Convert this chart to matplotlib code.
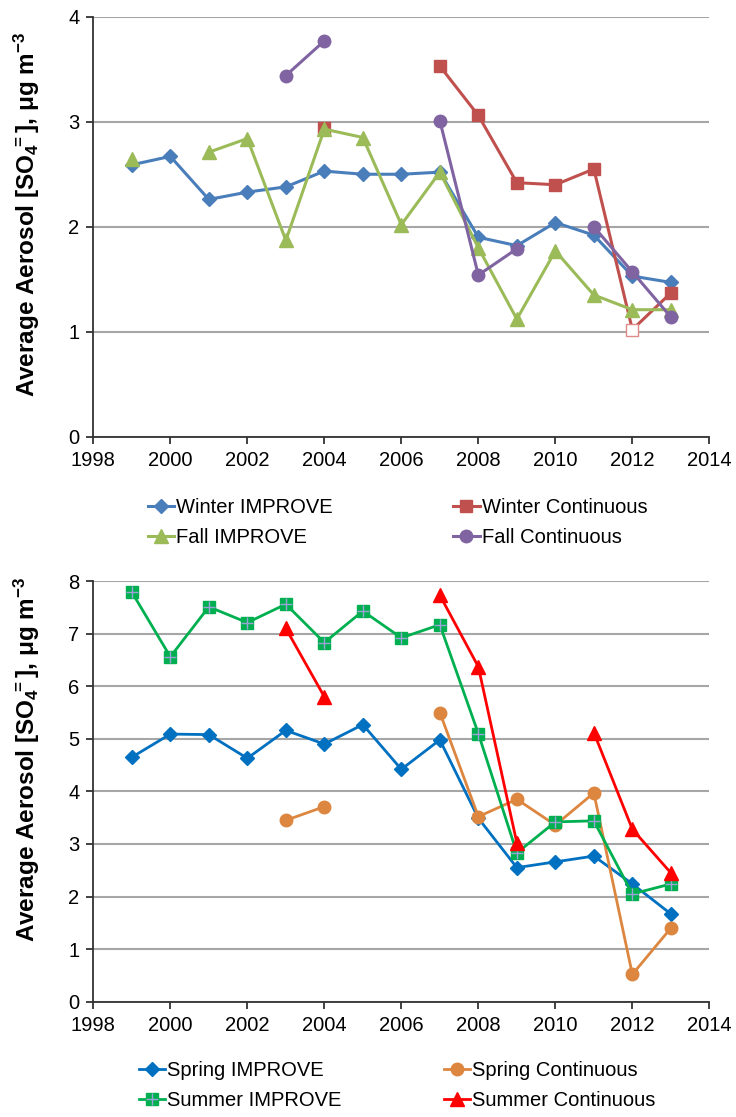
import numpy as np
import matplotlib
matplotlib.use("Agg")
import matplotlib.pyplot as plt

plt.rcParams['font.family'] = ['Liberation Sans', 'DejaVu Sans']
plt.rcParams['mathtext.default'] = 'regular'

nan = np.nan
years = list(range(1999, 2014))

# top panel: winter / fall
winter_improve = [2.59, 2.67, 2.26, 2.33, 2.38, 2.53, 2.50, 2.50, 2.52, 1.90, 1.82, 2.04, 1.92, 1.53, 1.47]
winter_cont = [nan, nan, nan, nan, nan, 2.94, nan, nan, 3.53, 3.06, 2.42, 2.40, 2.55, 1.02, 1.37]
fall_improve = [2.65, nan, 2.71, 2.84, 1.87, 2.93, 2.85, 2.02, 2.52, 1.80, 1.12, 1.77, 1.35, 1.21, 1.21]
fall_cont = [nan, nan, nan, nan, 3.44, 3.77, nan, nan, 3.01, 1.54, 1.79, nan, 2.00, 1.57, 1.14]

# bottom panel: spring / summer
spring_improve = [4.65, 5.09, 5.08, 4.63, 5.16, 4.90, 5.27, 4.42, 4.98, 3.49, 2.55, 2.66, 2.77, 2.24, 1.67]
spring_cont = [nan, nan, nan, nan, 3.45, 3.71, nan, nan, 5.50, 3.52, 3.85, 3.36, 3.97, 0.52, 1.40]
summer_improve = [7.79, 6.56, 7.51, 7.21, 7.56, 6.83, 7.43, 6.92, 7.17, 5.10, 2.83, 3.42, 3.44, 2.05, 2.24]
summer_cont = [nan, nan, nan, nan, 7.10, 5.80, nan, nan, 7.73, 6.37, 3.02, nan, 5.12, 3.28, 2.45]

hollow_year = 2012  # winter continuous point drawn unfilled

ylabel = r'Average Aerosol [SO$_4$$^{\!\!=}$], μg m$^{-3}$'

fig = plt.figure(figsize=(7.36, 11.17), dpi=100)
ax1 = fig.add_axes([0.1268, 0.609, 0.837, 0.376])
ax2 = fig.add_axes([0.1268, 0.1032, 0.837, 0.3766])


def style_axes(ax, ymax, label_y):
    ax.set_xlim(1998, 2014)
    ax.set_ylim(0, ymax)
    ax.set_xticks(range(1998, 2015, 2))
    ax.set_yticks(range(0, ymax + 1))
    ax.grid(axis='y', color='#a6a6a6', lw=1.5)
    ax.set_axisbelow(True)
    for s in ['top', 'right']:
        ax.spines[s].set_visible(False)
    for s in ['left', 'bottom']:
        ax.spines[s].set_color('#333333')
        ax.spines[s].set_linewidth(1.3)
    ax.tick_params(direction='out', length=5, width=1.3, color='#333333',
                   labelsize=14.5, pad=5)
    ax.set_ylabel(ylabel, fontsize=17.5, fontweight='bold')
    ax.yaxis.set_label_coords(-0.083, label_y)


lw = 2.2
h1 = ax1.plot(years, winter_improve, color='#4a7ebb', marker='D', ms=7.5, lw=lw,
              label='Winter IMPROVE')[0]
mask = [y != hollow_year for y in years]
h2 = ax1.plot(years, winter_cont, color='#c0504d', marker='s', ms=8.5, lw=lw,
              markevery=mask, label='Winter Continuous')[0]
ax1.plot([hollow_year], [winter_cont[years.index(hollow_year)]], ls='none', marker='s',
         ms=8, mfc='white', mec='#e08a88', mew=1.0, zorder=3)
h3 = ax1.plot(years, fall_improve, color='#9bbb59', marker='^', ms=9.5, lw=lw,
              label='Fall IMPROVE')[0]
h4 = ax1.plot(years, fall_cont, color='#8064a2', marker='o', ms=9, lw=lw,
              label='Fall Continuous')[0]
style_axes(ax1, 4, 0.53)
ax1.legend(handles=[h1, h3, h2, h4], ncol=2, loc='upper left',
           bbox_to_anchor=(0.187, 0.563), bbox_transform=fig.transFigure,
           frameon=False, fontsize=14.5, handlelength=1.3, handletextpad=0.1,
           columnspacing=6.0, labelspacing=0.55, borderpad=0)

lw2 = 2.0
g1 = ax2.plot(years, spring_improve, color='#0070c0', marker='D', ms=7, lw=lw2,
              label='Spring IMPROVE')[0]
g2 = ax2.plot(years, spring_cont, color='#dd8640', marker='o', ms=9, lw=lw2,
              label='Spring Continuous')[0]
g3 = ax2.plot(years, summer_improve, color='#00b050', marker='s', ms=9, lw=lw2,
              label='Summer IMPROVE')[0]
g3p = ax2.plot(years, summer_improve, ls='none', marker='+', ms=8, mew=1.0,
               color='#9aa3d6')[0]
g4 = ax2.plot(years, summer_cont, color='#ff0000', marker='^', ms=9.5, lw=lw2,
              label='Summer Continuous')[0]
style_axes(ax2, 8, 0.575)
ax2.legend(handles=[g1, (g3, g3p), g2, g4],
           labels=['Spring IMPROVE', 'Summer IMPROVE', 'Spring Continuous', 'Summer Continuous'],
           ncol=2, loc='upper left',
           bbox_to_anchor=(0.175, 0.059), bbox_transform=fig.transFigure,
           frameon=False, fontsize=14.5, handlelength=1.3, handletextpad=0.1,
           columnspacing=5.1, labelspacing=0.55, borderpad=0)

fig.savefig('out.png', dpi=100)
